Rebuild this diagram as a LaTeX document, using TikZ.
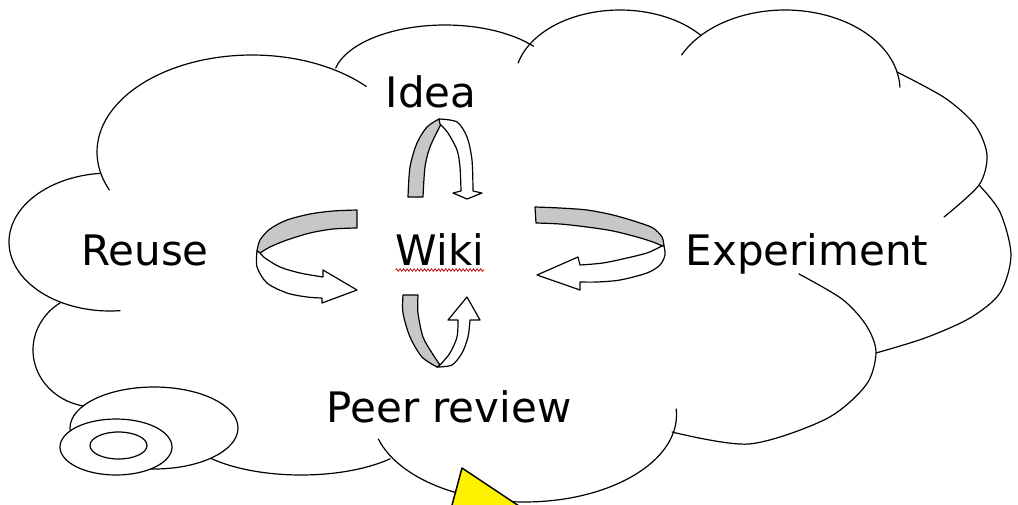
\documentclass[tikz,border=0pt]{standalone}
\usepackage{fontspec}
\setmainfont{DejaVu Sans}
\usetikzlibrary{decorations.pathmorphing}
\begin{document}
\begin{tikzpicture}[x=1pt,y=-1pt,
  cloudline/.style={line width=1.2pt, line cap=round, line join=round},
  backside/.style={fill=black!22, draw=black, line width=1.2pt, line join=round},
  frontside/.style={fill=white, draw=black, line width=1.2pt, line join=round},
  lbl/.style={font=\fontsize{42}{50}\selectfont, inner sep=0pt, anchor=base},
  bubble/.style={fill=white, draw=black, line width=1.2pt},
  handle/.style={fill=yellow, draw=black, line width=1.5pt, line join=round}]
\fill[white] (0,0) rectangle (1018,504);
\useasboundingbox (0,0) rectangle (1018,504);

% cloud lobes (elliptic arcs, pixel coordinates, y downwards)
\draw[cloudline] plot[domain=157:317.5, samples=70, variable=\t] ({252+155*cos(\t)}, {152+97*sin(\t)});
\draw[cloudline] plot[domain=192.6:322.2, samples=50, variable=\t] ({445+112*cos(\t)}, {80+55*sin(\t)});
\draw[cloudline] plot[domain=194:320, samples=50, variable=\t] ({620+105*cos(\t)}, {80+70*sin(\t)});
\draw[cloudline] plot[domain=206:358, samples=60, variable=\t] ({785+115*cos(\t)}, {90+80*sin(\t)});
\draw[cloudline] plot[smooth] coordinates {(897,72) (945,98) (975,125) (987,155) (979,185) (944,217)};
\draw[cloudline] plot[smooth] coordinates {(979,185) (1000,212) (1011,255) (1000,293) (970,318) (925,338) (876,353)};
\draw[cloudline] plot[smooth] coordinates {(799,274) (842,299) (866,325) (876,352) (866,385) (826,419) (749,444) (672,432)};
\draw[cloudline] plot[domain=-4:164, samples=70, variable=\t] ({524.5+152*cos(\t)}, {415+87*sin(\t)});
\draw[cloudline] plot[domain=42:140, samples=40, variable=\t] ({301+120*cos(\t)}, {426+49*sin(\t)});
\draw[cloudline] plot[domain=95:236, samples=50, variable=\t] ({95+62*cos(\t)}, {350+57*sin(\t)});
\draw[cloudline] plot[domain=84.3:264.3, samples=60, variable=\t] ({110+101*cos(\t)}, {242+69*sin(\t)});

% thought bubbles
\filldraw[bubble] (154,428) ellipse [x radius=84pt, y radius=41pt];
\filldraw[bubble] (116,447) ellipse [x radius=56pt, y radius=28pt];
\filldraw[bubble] (118.5,445.5) ellipse [x radius=28.5pt, y radius=13.5pt];

% Idea arrow
\filldraw[backside] plot[smooth] coordinates {(408,197) (410,167) (417,143) (427,127) (439,119)} -- plot[smooth] coordinates {(441,124) (430,147) (425,167) (423,197)} -- cycle;
\filldraw[frontside] plot[smooth] coordinates {(439,119) (457,122) (467,137) (472,160) (473,191)} -- (482,193) -- (467,199) -- (453,193) -- plot[smooth] coordinates {(461,191) (460,167) (457,150) (448,133) (440,124)} -- cycle;

% Peer review arrow
\filldraw[backside] plot[smooth] coordinates {(403,295) (403,313) (410,337) (422,357) (437,367)} -- plot[smooth] coordinates {(440,365) (432,353) (423,337) (418,313) (418,295)} -- cycle;
\filldraw[frontside] plot[smooth] coordinates {(437,367) (452,365) (462,353) (468,337) (470,320)} -- (480,320) -- (467,297) -- (448,320) -- plot[smooth] coordinates {(458,320) (457,337) (450,353) (440,365)} -- cycle;

% Reuse arrow
\filldraw[backside] plot[smooth] coordinates {(357,210) (333,211) (310,214) (287,220) (270,229) (260,240) (257,251)} -- plot[smooth] coordinates {(260,253) (270,247) (287,240) (310,233) (333,229) (357,228)} -- cycle;
\filldraw[frontside] plot[smooth] coordinates {(257,251) (257,267) (267,283) (287,293) (307,297) (322,298)} -- (322,303) -- (357,290) -- (323,270) -- plot[smooth] coordinates {(323,277) (300,273) (280,267) (265,258) (260,253)} -- cycle;

% Experiment arrow
\filldraw[backside] plot[smooth] coordinates {(535,207) (560,208) (587,210) (613,215) (637,222) (653,228) (662,237) (664,246)} -- plot[smooth] coordinates {(660,245) (653,242) (637,237) (613,231) (587,227) (560,224) (536,223)} -- cycle;
\filldraw[frontside] plot[smooth] coordinates {(664,246) (665,255) (660,265) (647,273) (620,280) (597,282) (580,282)} -- (580,290) -- (537,275) -- (578,257) -- plot[smooth] coordinates {(580,265) (603,263) (627,258) (647,253) (658,248) (662,246)} -- cycle;

% labels
\node[lbl] (idea) at (431,107) {Idea};
\node[lbl] (wiki) at (440,265) {Wiki};
\node[lbl] (reuse) at (145,265) {Reuse};
\node[lbl] (exp) at (807,265) {Experiment};
\node[lbl] (peer) at (449,422) {Peer review};
\draw[red!75!black, line width=0.7pt, decorate, decoration={zigzag, amplitude=1.3pt, segment length=3.5pt}] ([yshift=-5pt]wiki.base west) -- ([yshift=-5pt]wiki.base east);

% yellow adjust handle
\begin{scope}
\clip (0,0) rectangle (1018,504);
\filldraw[handle] (462,468) -- (448,520) -- (540,520) -- cycle;
\end{scope}
\end{tikzpicture}
\end{document}
